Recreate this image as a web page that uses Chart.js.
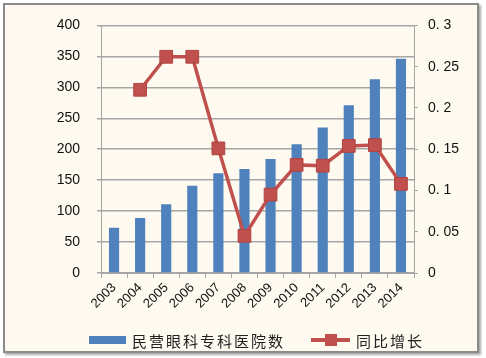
<!DOCTYPE html>
<html>
<head>
<meta charset="utf-8">
<script src="https://cdn.jsdelivr.net/npm/chart.js@4"></script>
<style>
  body { margin: 0; background: #fff; }
  #frame {
    position: absolute; left: 3px; top: 3px; width: 472px; height: 346px;
    border: 2px solid #8a8a8a; background: #fffaf0; box-shadow: 2px 2px 2px #aaa;
  }
  #wrap { position: absolute; left: 0; top: 0; width: 486px; height: 358px; }
  #legend {
    position: absolute; left: 0; top: 331px; width: 486px; height: 20px;
    font-family: "Noto Sans CJK SC", sans-serif; font-size: 15px; color: #222;
  }
  .item { position: absolute; top: 0; line-height: 20px; letter-spacing: 2px; white-space: nowrap; }
  .sw { position: absolute; }
</style>
</head>
<body>
<div id="frame"></div>
<div id="wrap"><canvas id="chart" width="486" height="358"></canvas></div>
<div id="legend">
  <div class="sw" style="left:89px;top:5px;width:37px;height:8px;background:#4f81bd"></div>
  <div class="item" style="left:132px">民营眼科专科医院数</div>
  <div class="sw" style="left:311px;top:7px;width:39px;height:4px;background:#c0504d"></div>
  <div class="sw" style="left:325px;top:3px;width:12px;height:12px;background:#c0504d"></div>
  <div class="item" style="left:356px">同比增长</div>
</div>
<script>
const years = ["2003", "2004", "2005", "2006", "2007", "2008", "2009", "2010", "2011", "2012", "2013", "2014"];
const hospitals = [73, 89, 111, 141, 161, 168, 184, 208, 235, 271, 313, 346];
const growth = [null, 0.222, 0.262, 0.262, 0.151, 0.045, 0.095, 0.131, 0.130, 0.154, 0.155, 0.108];
const leftTicks = [0, 50, 100, 150, 200, 250, 300, 350, 400];

const gridColor = "#a6a6a6";
const tickFont = { family: "Liberation Sans", size: 14 };

new Chart(document.getElementById("chart"), {
  type: "bar",
  data: {
    labels: years,
    datasets: [
      {
        type: "line",
        label: "同比增长",
        data: growth,
        yAxisID: "y1",
        borderColor: "#c0504d",
        backgroundColor: "#c0504d",
        borderWidth: 3.5,
        pointStyle: "rect",
        pointRadius: 9,
        pointBorderWidth: 1,
        pointBorderColor: "#b04440",
        tension: 0,
        order: 0
      },
      {
        label: "民营眼科专科医院数",
        data: hospitals,
        yAxisID: "y",
        backgroundColor: "#4f81bd",
        barPercentage: 1,
        categoryPercentage: 0.39,
        order: 1
      }
    ]
  },
  options: {
    responsive: false,
    animation: false,
    layout: { padding: { top: 19, left: 0, right: 0, bottom: 0 } },
    plugins: { legend: { display: false }, tooltip: { enabled: false } },
    scales: {
      x: {
        offset: true,
        grid: { display: true, drawOnChartArea: false, offset: true, tickLength: 5, color: gridColor },
        border: { color: gridColor },
        ticks: { color: "#111", font: { family: "Liberation Sans", size: 13 }, autoSkip: false, minRotation: 45, maxRotation: 45, padding: 2 },
        afterFit: s => { s.height = 85; }
      },
      y: {
        position: "left",
        min: 0, max: 400,
        afterBuildTicks: s => { s.ticks = leftTicks.map(v => ({ value: v })); },
        grid: { color: gridColor, tickLength: 4, lineWidth: 1.5 },
        border: { color: gridColor },
        ticks: { color: "#111", font: tickFont, padding: 17 },
        afterFit: s => { s.width = 101; }
      },
      y1: {
        position: "right",
        min: 0, max: 0.3,
        ticks: {
          stepSize: 0.05, color: "#111", font: tickFont, padding: 10,
          callback: v => v === 0 ? "0" : "0. " + (Math.round(v * 100) % 10 === 0 ? String(Math.round(v * 10)) : String(Math.round(v * 100)).padStart(2, "0"))
        },
        grid: { drawOnChartArea: false, tickLength: 4, color: gridColor },
        border: { color: gridColor },
        afterFit: s => { s.width = 72; }
      }
    }
  }
});
</script>
</body>
</html>
